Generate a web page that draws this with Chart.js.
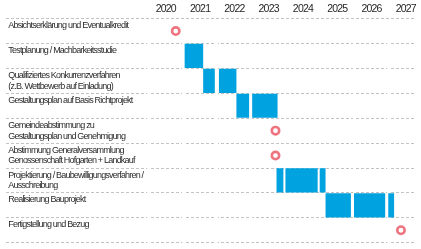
<!DOCTYPE html>
<html><head><meta charset="utf-8">
<script src="https://cdn.jsdelivr.net/npm/chart.js@4"></script>
<style>html,body{margin:0;padding:0;background:#fff}#c{display:block}</style>
</head><body>
<canvas id="c" width="421" height="249"></canvas>
<script>
const tasks = [
  ['Absichtserklärung und Eventualkredit', ''],
  ['Testplanung / Machbarkeitsstudie', ''],
  ['Qualifiziertes Konkurrenzverfahren', '(z.B. Wettbewerb auf Einladung)'],
  ['Gestaltungsplan auf Basis Richtprojekt', ''],
  ['Gemeindeabstimmung zu', 'Gestaltungsplan und Genehmigung'],
  ['Abstimmung Generalversammlung', 'Genossenschaft Hofgarten + Landkauf'],
  ['Projektierung / Baubewilligungsverfahren /', 'Ausschreibung'],
  ['Realisierung Bauprojekt', ''],
  ['Fertigstellung und Bezug', '']
];
const years = [2020, 2021, 2022, 2023, 2024, 2025, 2026, 2027];
const segment1 = [null, [2021.06, 2021.60], [2021.60, 2021.94], [2022.57, 2022.94], null, null, [2023.74, 2023.94], [2025.17, 2025.91], null];
const segment2 = [null, null, [2022.06, 2022.57], [2023.03, 2023.77], null, null, [2024.00, 2024.94], [2026.00, 2026.91], null];
const segment3 = [null, null, null, null, null, null, [2025.00, 2025.17], [2027.00, 2027.17], null];
const milestones = [2020.80, null, null, null, 2023.71, 2023.71, null, null, 2027.37];

const FONT = "'Liberation Sans', Arial, sans-serif";
const BLUE = '#00a2df';

function barSet(d) {
  return {type: 'bar', data: d, backgroundColor: BLUE, borderWidth: 0, borderSkipped: false,
    barPercentage: 1, categoryPercentage: 0.97, grouped: false};
}

const narrowText = {
  id: 'narrowText',
  beforeInit(chart) { chart.ctx.letterSpacing = '-0.8px'; },
  beforeDraw(chart) { chart.ctx.letterSpacing = '-0.8px'; }
};

new Chart(document.getElementById('c'), {
  type: 'bar',
  plugins: [narrowText],
  data: {
    labels: tasks,
    datasets: [
      barSet(segment1), barSet(segment2), barSet(segment3),
      {type: 'line', data: milestones, showLine: false, spanGaps: false,
       pointRadius: 3.7, pointHoverRadius: 3.7, pointBorderWidth: 2.6,
       pointBorderColor: '#ee7480', pointBackgroundColor: '#ffffff'}
    ]
  },
  options: {
    indexAxis: 'y',
    responsive: false,
    animation: false,
    layout: {padding: {bottom: 4}},
    plugins: {legend: {display: false}, tooltip: {enabled: false}},
    scales: {
      x: {
        type: 'linear', position: 'top', min: 2015.857, max: 2027.771,
        afterBuildTicks: s => { s.ticks = years.map(v => ({value: v})); },
        ticks: {callback: v => String(v), labelOffset: 17.5, padding: 3, autoSkip: false,
                maxRotation: 0, color: '#262626', font: {family: FONT, size: 10.5}},
        grid: {color: '#ffffff', lineWidth: 2, drawTicks: false, z: -1},
        border: {display: false}
      },
      y: {
        type: 'category', position: 'left', offset: true,
        afterFit: s => { s.paddingTop = 0; s.paddingBottom = 0; },
        grid: {offset: true, color: '#c2c2c2', lineWidth: 1, drawTicks: false, z: -2},
        border: {display: false, dash: [3, 2]},
        ticks: {mirror: true, padding: 2, color: '#2a2a2a', font: {family: FONT, size: 9}, autoSkip: false}
      }
    }
  }
});
</script>
</body></html>
